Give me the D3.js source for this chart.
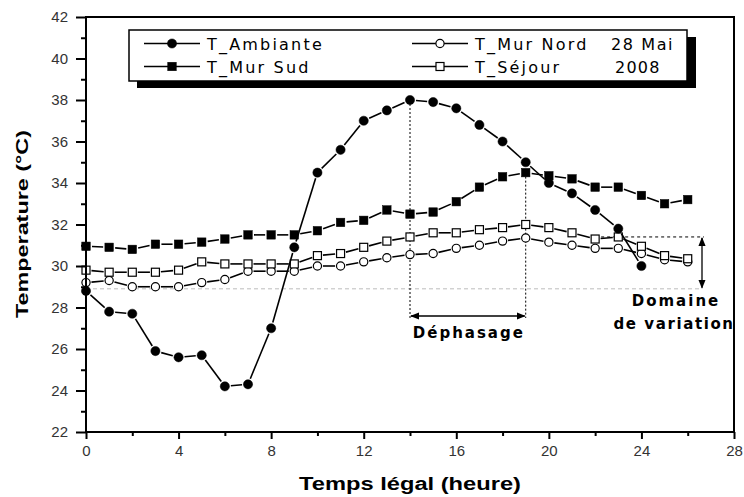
<!DOCTYPE html>
<html>
<head>
<meta charset="utf-8">
<script src="https://cdn.jsdelivr.net/npm/d3@7"></script>
<style>
  html, body { margin: 0; padding: 0; background: #fff; }
  svg { display: block; }
</style>
</head>
<body>
<svg id="chart" width="744" height="497"></svg>
<script>
// ---- data ----
const hoursAmb = [0,1,2,3,4,5,6,7,8,9,10,11,12,13,14,15,16,17,18,19,20,21,22,23,24];
const tAmbiante = [28.8,27.8,27.7,25.9,25.6,25.7,24.2,24.3,27.0,30.9,34.5,35.6,37.0,37.5,38.0,37.9,37.6,36.8,36.0,35.0,34.0,33.5,32.7,31.8,30.0];
const hoursWall = [0,1,2,3,4,5,6,7,8,9,10,11,12,13,14,15,16,17,18,19,20,21,22,23,24,25,26];
const tMurSud  = [30.95,30.9,30.8,31.05,31.05,31.15,31.3,31.5,31.5,31.5,31.7,32.1,32.2,32.7,32.5,32.6,33.1,33.8,34.3,34.5,34.35,34.2,33.8,33.8,33.4,33.0,33.2];
const tMurNord = [29.2,29.3,29.0,29.0,29.0,29.2,29.35,29.75,29.75,29.75,30.0,30.0,30.2,30.4,30.55,30.6,30.85,31.0,31.2,31.35,31.15,31.0,30.85,30.85,30.6,30.3,30.2];
const tSejour  = [29.8,29.7,29.7,29.7,29.8,30.2,30.1,30.1,30.1,30.1,30.5,30.6,30.9,31.2,31.4,31.6,31.6,31.75,31.85,32.0,31.85,31.6,31.3,31.4,30.95,30.5,30.35];
const xTicks = [0,4,8,12,16,20,24,28];
const yTicks = [22,24,26,28,30,32,34,36,38,40,42];
const seriesNames = ["T_Ambiante","T_Mur Sud","T_Mur Nord","T_Séjour"];
const legendNote = ["28 Mai","2008"];
const dephasage = [14,19];          // hours of the two peaks
const variationRange = [28.9,31.4]; // domaine de variation

// ---- setup ----
const svg = d3.select("#chart");
const x = d3.scaleLinear().domain([0,28]).range([86,734]);
const y = d3.scaleLinear().domain([22,42]).range([432,17]);

const defs = svg.append("defs");
defs.append("marker").attr("id", "arr")
  .attr("viewBox","0 0 10 10").attr("refX",9).attr("refY",5)
  .attr("markerWidth",7).attr("markerHeight",7).attr("orient","auto-start-reverse")
  .append("path").attr("d","M0,1 L10,5 L0,9 Z").attr("fill","#000");

// ---- reference guides ----
const g = svg.append("g");
g.append("line")
  .attr("x1", x(0)).attr("x2", 702)
  .attr("y1", y(variationRange[0])).attr("y2", y(variationRange[0]))
  .attr("stroke","#bdbdbd").attr("stroke-width",1).attr("stroke-dasharray","4,3");
g.append("line")
  .attr("x1", x(22)).attr("x2", 704)
  .attr("y1", y(variationRange[1])).attr("y2", y(variationRange[1]))
  .attr("stroke","#000").attr("stroke-width",1).attr("stroke-dasharray","3,3");
g.append("line")
  .attr("x1", 702).attr("x2", 702)
  .attr("y1", y(variationRange[1]) + 1).attr("y2", y(variationRange[0]) - 1)
  .attr("stroke","#000").attr("stroke-width",1.3)
  .attr("marker-start","url(#arr)").attr("marker-end","url(#arr)");

const ampPeak = tAmbiante[hoursAmb.indexOf(dephasage[0])];
const sudPeak = tMurSud[hoursWall.indexOf(dephasage[1])];
g.append("line").attr("x1", x(dephasage[0])).attr("x2", x(dephasage[0]))
  .attr("y1", y(ampPeak)).attr("y2", 318)
  .attr("stroke","#000").attr("stroke-width",1).attr("stroke-dasharray","2,2");
g.append("line").attr("x1", x(dephasage[1])).attr("x2", x(dephasage[1]))
  .attr("y1", y(sudPeak)).attr("y2", 318)
  .attr("stroke","#000").attr("stroke-width",1).attr("stroke-dasharray","2,2");
g.append("line").attr("x1", x(dephasage[0]) + 1).attr("x2", x(dephasage[1]) - 1)
  .attr("y1", 316).attr("y2", 316)
  .attr("stroke","#000").attr("stroke-width",1.3)
  .attr("marker-start","url(#arr)").attr("marker-end","url(#arr)");

const annFont = "'DejaVu Sans', sans-serif";
g.append("text").attr("x", (x(dephasage[0]) + x(dephasage[1])) / 2 + 1).attr("y", 338)
  .attr("text-anchor","middle")
  .style("font-family",annFont).style("font-weight","bold")
  .style("font-size","15px").style("letter-spacing","2px")
  .text("Déphasage");
g.append("text").attr("x", 676).attr("y", 306)
  .attr("text-anchor","middle")
  .style("font-family",annFont).style("font-weight","bold")
  .style("font-size","15px").style("letter-spacing","2px")
  .text("Domaine");
g.append("text").attr("x", 674).attr("y", 329)
  .attr("text-anchor","middle")
  .style("font-family",annFont).style("font-weight","bold")
  .style("font-size","15px").style("letter-spacing","1.6px")
  .text("de variation");

// ---- series ----
function drawMarkers(sel, pts, shape, filled) {
  pts.forEach(([px, py]) => {
    if (shape === "circle") {
      sel.append("circle").attr("cx", px).attr("cy", py).attr("r", filled ? 4.6 : 4.1)
        .attr("fill", filled ? "#000" : "#fff").attr("stroke","#000").attr("stroke-width", filled ? 0.5 : 1.2);
    } else {
      const s = filled ? 8.5 : 8;
      sel.append("rect").attr("x", px - s/2).attr("y", py - s/2).attr("width", s).attr("height", s)
        .attr("fill", filled ? "#000" : "#fff").attr("stroke","#000").attr("stroke-width", filled ? 0.5 : 1.2);
    }
  });
}
function drawSeries(xs, ys, shape, filled, gap) {
  const pts = xs.map((h, i) => [x(h), y(ys[i])]);
  const sg = svg.append("g");
  for (let i = 0; i < pts.length - 1; i++) {
    const [x1, y1] = pts[i], [x2, y2] = pts[i + 1];
    const dx = x2 - x1, dy = y2 - y1, L = Math.hypot(dx, dy);
    if (L <= 2 * gap) continue;
    const ux = dx / L, uy = dy / L;
    sg.append("line")
      .attr("x1", x1 + ux * gap).attr("y1", y1 + uy * gap)
      .attr("x2", x2 - ux * gap).attr("y2", y2 - uy * gap)
      .attr("stroke","#000").attr("stroke-width",1.6);
  }
  drawMarkers(sg, pts, shape, filled);
}
drawSeries(hoursWall, tMurNord, "circle", false, 5.5);
drawSeries(hoursWall, tSejour, "square", false, 5.5);
drawSeries(hoursWall, tMurSud, "square", true, 6);
drawSeries(hoursAmb, tAmbiante, "circle", true, 6);

// ---- axes ----
const tickFont = "'Liberation Sans', Arial, sans-serif";
const yAxis = svg.append("g").attr("transform", `translate(${x(0)},0)`)
  .call(d3.axisLeft(y).tickValues(yTicks).tickSize(10).tickPadding(8).tickSizeOuter(0));
const yMinor = svg.append("g").attr("transform", `translate(${x(0)},0)`)
  .call(d3.axisLeft(y).tickValues(d3.range(23, 42, 2)).tickSize(5).tickFormat("").tickSizeOuter(0));
const xAxis = svg.append("g").attr("transform", `translate(0,${y(22)})`)
  .call(d3.axisBottom(x).tickValues(xTicks).tickSize(7).tickPadding(6).tickSizeOuter(0));
const xMinor = svg.append("g").attr("transform", `translate(0,${y(22)})`)
  .call(d3.axisBottom(x).tickValues(d3.range(2, 28, 4)).tickSize(4).tickFormat("").tickSizeOuter(0));
[yAxis, yMinor, xAxis, xMinor].forEach(a => {
  a.select(".domain").remove();
  a.selectAll(".tick line").attr("stroke","#000").attr("stroke-width",2);
  a.selectAll(".tick text").style("font-family", tickFont).style("font-size","15px").attr("fill","#333");
});

// frame
svg.append("rect").attr("x", x(0)).attr("y", y(42)).attr("width", x(28) - x(0)).attr("height", y(22) - y(42))
  .attr("fill","none").attr("stroke","#000").attr("stroke-width",2);

// axis titles
svg.append("text").attr("x", 410).attr("y", 490).attr("text-anchor","middle")
  .style("font-family","'Liberation Sans', Arial, sans-serif").style("font-weight","bold").style("font-size","18px")
  .attr("textLength", 222).attr("lengthAdjust","spacingAndGlyphs")
  .text("Temps légal (heure)");
svg.append("text").attr("transform","translate(28,224) rotate(-90)").attr("text-anchor","middle")
  .style("font-family","'Liberation Sans', Arial, sans-serif").style("font-weight","bold").style("font-size","17px")
  .attr("textLength", 188).attr("lengthAdjust","spacingAndGlyphs")
  .text("Temperature (°C)");

// ---- legend ----
const lg = svg.append("g");
lg.append("rect").attr("x", 137).attr("y", 37).attr("width", 559).attr("height", 51).attr("fill","#000");
lg.append("rect").attr("x", 129).attr("y", 30).attr("width", 558).attr("height", 51)
  .attr("fill","#fff").attr("stroke","#000").attr("stroke-width",1.5);
const legItems = [
  {name: seriesNames[0], shape:"circle", filled:true,  lx:144, ty:43.5},
  {name: seriesNames[1], shape:"square", filled:true,  lx:144, ty:66.5},
  {name: seriesNames[2], shape:"circle", filled:false, lx:412, ty:43.5},
  {name: seriesNames[3], shape:"square", filled:false, lx:412, ty:66.5}
];
legItems.forEach(it => {
  lg.append("line").attr("x1", it.lx).attr("x2", it.lx + 56).attr("y1", it.ty).attr("y2", it.ty)
    .attr("stroke","#000").attr("stroke-width",1.6);
  drawMarkers(lg, [[it.lx + 28, it.ty]], it.shape, it.filled);
  lg.append("text").attr("x", it.lx + 63).attr("y", it.ty + 6)
    .style("font-family","'DejaVu Sans', sans-serif").style("font-size","16px").style("letter-spacing","2.2px")
    .text(it.name);
});
lg.append("text").attr("x", 611).attr("y", 49.5)
  .style("font-family","'DejaVu Sans', sans-serif").style("font-size","16px").style("letter-spacing","1.6px")
  .text(legendNote[0]);
lg.append("text").attr("x", 615).attr("y", 72.5)
  .style("font-family","'DejaVu Sans', sans-serif").style("font-size","16px").style("letter-spacing","1.2px")
  .text(legendNote[1]);
</script>
</body>
</html>
